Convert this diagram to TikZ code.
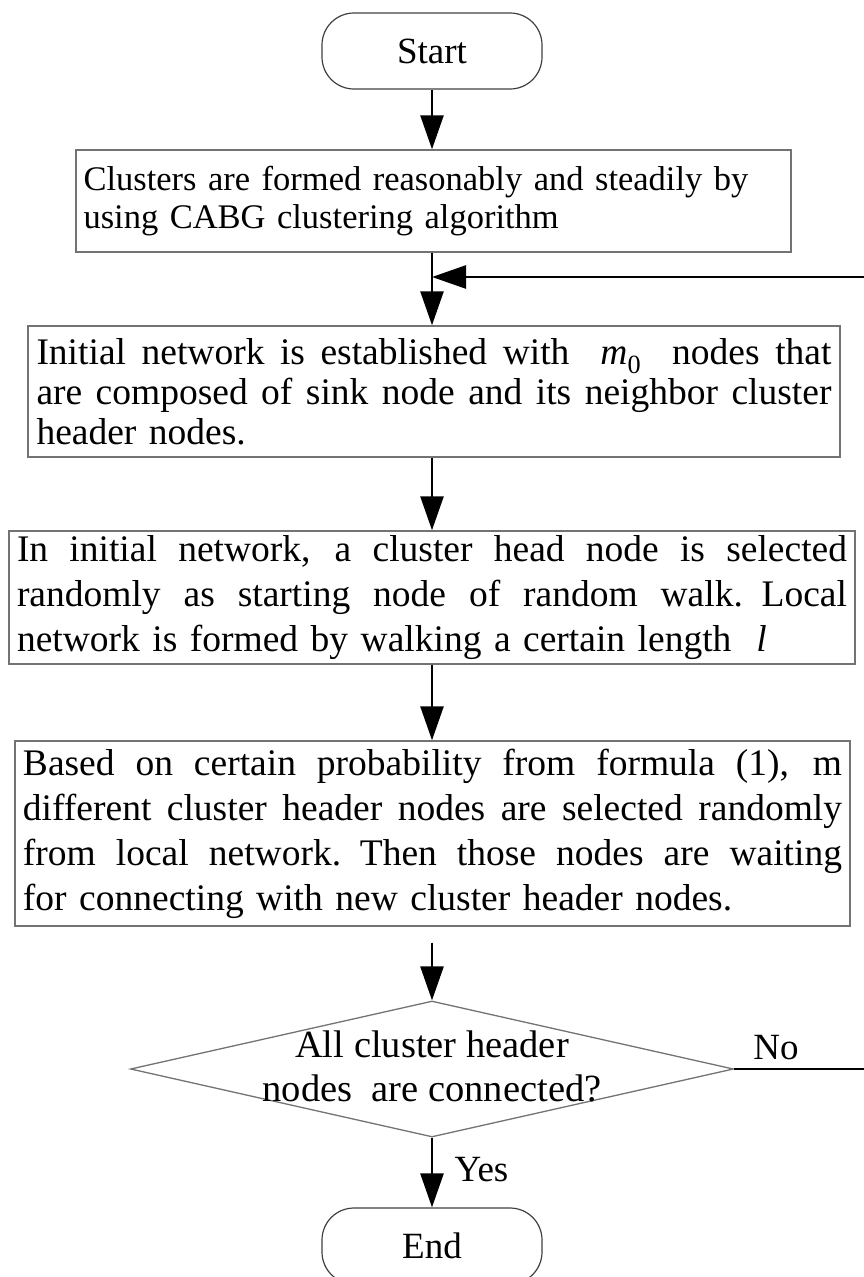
\documentclass[tikz,border=0pt]{standalone}
\usepackage{fontspec}
\setmainfont{Liberation Serif}
\usetikzlibrary{arrows.meta,shapes.geometric}
\newcommand{\jl}[2]{\leavevmode\hbox to #1{\spaceskip=0.25em plus 1fil\relax #2}}
\begin{document}
\begin{tikzpicture}[x=1pt,y=-1pt,
  txt/.style={font=\fontsize{37}{36}\selectfont},
  termst/.style={draw=black!75, line width=1.2pt, rounded corners=32pt, minimum width=220pt, minimum height=76pt, inner sep=0pt, txt},
  boxst/.style={draw=black!55, line width=1.4pt, inner sep=0pt, align=left},
  decst/.style={draw=black!55, line width=1.3pt, diamond, minimum width=603pt, minimum height=136pt, inner sep=0pt},
  arr/.style={line width=2.6pt, -{Triangle[length=34pt,width=23pt]}}
]
\useasboundingbox (0,0) rectangle (863,1277);
\node[termst] (start) at (432,51) {Start};
\node[boxst, minimum width=715pt, minimum height=102pt, text width=700pt, font=\fontsize{34.5}{38}\selectfont] (b1) at (433.5,201)
  {Clusters are formed reasonably and steadily by\\using CABG clustering algorithm};
\coordinate (j) at (432,277);
\node[boxst, minimum width=812pt, minimum height=131pt, text width=795pt, font=\fontsize{37.5}{40}\selectfont] (b2) at (434,391.5)
  {\jl{795pt}{Initial network is established with \ {\itshape m}\textsubscript{0} \ nodes that}\\
   \jl{795pt}{are composed of sink node and its neighbor cluster}\\
   header nodes.};
\node[boxst, minimum width=846pt, minimum height=133pt, text width=830pt, font=\fontsize{37.5}{45}\selectfont] (b3) at (432,597.5)
  {\jl{830pt}{In initial network, a cluster head node is selected}\\
   \jl{830pt}{randomly as starting node of random walk. Local}\\
   network is formed by walking a certain length \ {\itshape l}};
\node[boxst, minimum width=835pt, minimum height=185pt, text width=819pt, font=\fontsize{37.5}{45}\selectfont] (b4) at (432.5,833.5)
  {\jl{819pt}{Based on certain probability from formula (1), m}\\
   \jl{819pt}{different cluster header nodes are selected randomly}\\
   \jl{819pt}{from local network. Then those nodes are waiting}\\
   for connecting with new cluster header nodes.};
\node[decst] (dec) at (432,1069) {};
\node[align=center, font=\fontsize{38.5}{44}\selectfont] (dect) at (432,1066) {All cluster header\\nodes\ \ are connected?};
\node[termst] (end) at (432,1246) {End};
\coordinate (fb) at (890,1069);
\node[txt] (no) at (776,1048) {No};
\node[txt, anchor=west] (yes) at (451,1170) {Yes};

\draw[arr] (start.south -| j) -- (b1.north -| j);
\draw[arr] (b1.south -| j) -- (b2.north -| j);
\draw[arr] (b2.south -| j) -- (b3.north -| j);
\draw[arr] (b3.south -| j) -- (b4.north -| j);
\draw[arr, shorten <=16pt] (b4.south -| j) -- (dec.north);
\draw[arr] (dec.south) -- (end.north);
\draw[arr] (dec.east) -- (fb) |- (j);
\end{tikzpicture}
\end{document}
